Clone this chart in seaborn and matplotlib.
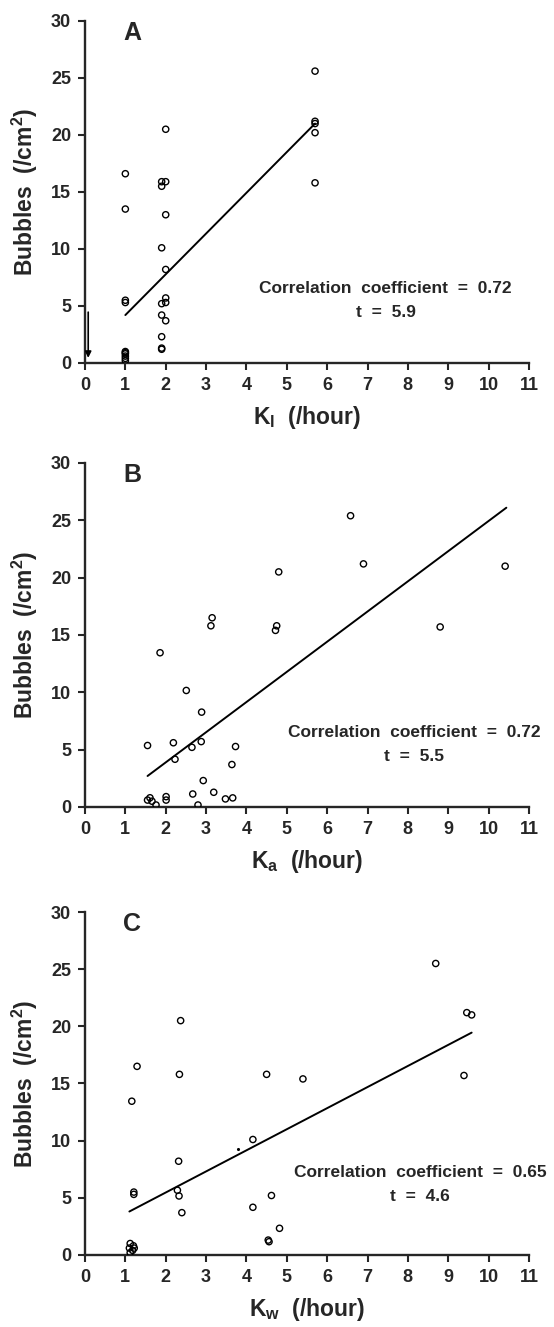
import pandas as pd
import seaborn as sns
import matplotlib.pyplot as plt

# panel A: bubbles vs K_I
a_x = [1.0, 1.0, 1.0, 1.0, 1.0, 1.0, 1.0, 1.0, 1.0, 1.0,
       1.9, 1.9, 1.9, 1.9, 1.9, 1.9, 1.9, 1.9,
       2.0, 2.0, 2.0, 2.0, 2.0, 2.0, 2.0,
       5.7, 5.7, 5.7, 5.7, 5.7]
a_y = [16.6, 13.5, 5.5, 5.3, 1.0, 0.9, 0.8, 0.6, 0.4, 0.2,
       15.9, 15.5, 10.1, 5.2, 4.2, 2.3, 1.3, 1.2,
       20.5, 15.9, 13.0, 8.2, 5.7, 5.3, 3.7,
       25.6, 21.2, 21.0, 20.2, 15.8]
a_fit_x = [1.0, 5.7]
a_fit_y = [4.2, 21.0]

# panel B: bubbles vs K_a
b_x = [6.58, 6.9, 4.8, 3.15, 3.12, 4.75, 4.72, 1.86, 2.51, 2.89,
       1.55, 2.19, 2.65, 2.88, 3.73, 2.23, 3.64, 2.93, 2.67, 3.19,
       3.48, 3.66, 1.55, 1.61, 1.66, 1.76, 2.01, 2.01, 2.8,
       10.41, 8.8]
b_y = [25.4, 21.2, 20.5, 16.5, 15.8, 15.8, 15.4, 13.45, 10.16, 8.27,
       5.36, 5.6, 5.2, 5.7, 5.27, 4.16, 3.7, 2.3, 1.13, 1.28,
       0.7, 0.79, 0.6, 0.8, 0.5, 0.17, 0.9, 0.6, 0.17,
       21.0, 15.7]
b_fit_x = [1.55, 10.44]
b_fit_y = [2.7, 26.1]

# panel C: bubbles vs K_w
c_x = [2.37, 1.29, 2.34, 4.5, 5.4, 1.16, 4.16, 2.32, 1.21, 1.21,
       2.29, 2.33, 4.62, 4.16, 2.4, 4.82, 4.54, 4.56,
       1.12, 1.2, 1.1, 1.18, 1.12, 1.22,
       8.69, 9.46, 9.58, 9.39]
c_y = [20.5, 16.5, 15.8, 15.8, 15.4, 13.45, 10.1, 8.2, 5.5, 5.3,
       5.66, 5.16, 5.2, 4.17, 3.7, 2.33, 1.3, 1.16,
       1.0, 0.8, 0.6, 0.4, 0.2, 0.6,
       25.5, 21.2, 21.0, 15.7]
c_dot_x = [3.8]
c_dot_y = [9.27]
c_fit_x = [1.1, 9.58]
c_fit_y = [3.8, 19.45]

panels = [
    ("A", a_x, a_y, a_fit_x, a_fit_y, r"K$_\mathbf{I}$  (/hour)", "0.72", "5.9", 7.45, 6.5),
    ("B", b_x, b_y, b_fit_x, b_fit_y, r"K$_\mathbf{a}$  (/hour)", "0.72", "5.5", 8.15, 6.5),
    ("C", c_x, c_y, c_fit_x, c_fit_y, r"K$_\mathbf{w}$  (/hour)", "0.65", "4.6", 8.3, 7.2),
]

sns.set_style("ticks")
plt.rcParams["font.family"] = ["Liberation Sans", "DejaVu Sans"]
plt.rcParams["font.weight"] = "bold"
plt.rcParams["mathtext.fontset"] = "custom"
plt.rcParams["mathtext.rm"] = "Liberation Sans:bold"
plt.rcParams["mathtext.bf"] = "Liberation Sans:bold"
plt.rcParams["mathtext.default"] = "bf"

fig = plt.figure(figsize=(5.54, 13.27), dpi=100)
boxes = [[0.1534, 0.7265, 0.8014, 0.2577],
         [0.1534, 0.3919, 0.8014, 0.2592],
         [0.1534, 0.0543, 0.8014, 0.2584]]

for box, (letter, xs, ys, fx, fy, xlab, r, t, tx, ty) in zip(boxes, panels):
    ax = fig.add_axes(box)
    df = pd.DataFrame({"k": xs, "bubbles": ys})
    sns.scatterplot(data=df, x="k", y="bubbles", ax=ax, marker="o", s=20,
                    facecolor="none", edgecolor="black", linewidth=1.0, zorder=3)
    sns.lineplot(x=fx, y=fy, ax=ax, color="black", linewidth=1.4)
    if letter == "C":
        sns.scatterplot(x=c_dot_x, y=c_dot_y, ax=ax, s=5, color="black", linewidth=0)
    if letter == "A":
        ax.annotate("", xy=(0.08, 0.2), xytext=(0.08, 4.7),
                    arrowprops=dict(arrowstyle="-|>", color="black", lw=1.2,
                                    mutation_scale=9))
    ax.set_xlim(0, 11)
    ax.set_ylim(0, 30)
    ax.set_xticks(range(0, 12))
    ax.set_yticks(range(0, 31, 5))
    sns.despine(ax=ax)
    for s in ["left", "bottom"]:
        ax.spines[s].set_linewidth(1.7)
    ax.tick_params(direction="out", length=5, width=1.5, labelsize=13, pad=5)
    for lab in ax.get_xticklabels() + ax.get_yticklabels():
        lab.set_fontweight("bold")
    ax.set_xlabel(xlab, fontsize=16.5, fontweight="bold", labelpad=7)
    ax.set_ylabel(r"Bubbles  (/cm$^2$)", fontsize=16.5, fontweight="bold", labelpad=8)
    ax.text(0.95, 30, letter, fontsize=18, fontweight="bold", va="top", ha="left")
    ax.text(tx, ty, "Correlation  coefficient  =  " + r, fontsize=12.5,
            fontweight="bold", ha="center", va="center")
    ax.text(tx, ty - 2.1, "t  =  " + t, fontsize=12.5, fontweight="bold",
            ha="center", va="center")
    ax.set_facecolor("white")

fig.savefig("out.png", dpi=100, facecolor="white")
